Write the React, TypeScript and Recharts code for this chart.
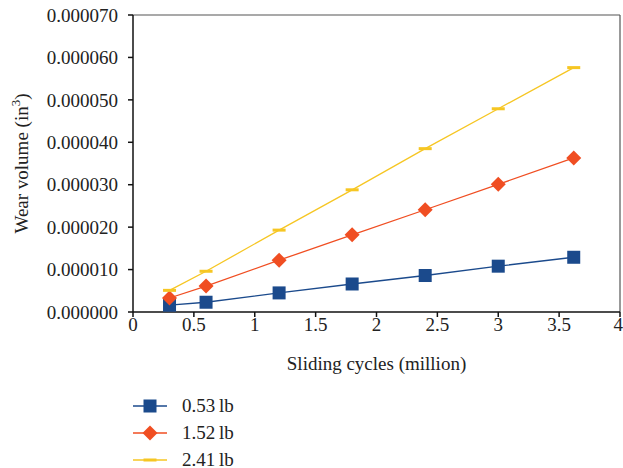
import { LineChart, Line, XAxis, YAxis, ReferenceLine } from "recharts";

const cycles = [0.3, 0.6, 1.2, 1.8, 2.4, 3.0, 3.62];
const load053 = [1.6e-6, 2.3e-6, 4.5e-6, 6.6e-6, 8.6e-6, 10.8e-6, 12.9e-6];
const load152 = [3.3e-6, 6.1e-6, 12.2e-6, 18.2e-6, 24.1e-6, 30.1e-6, 36.3e-6];
const load241 = [5.1e-6, 9.6e-6, 19.3e-6, 28.8e-6, 38.5e-6, 47.9e-6, 57.6e-6];
const xTicks = [0, 0.5, 1, 1.5, 2, 2.5, 3, 3.5, 4];
const yTicks = [0, 0.00001, 0.00002, 0.00003, 0.00004, 0.00005, 0.00006, 0.00007];

const data = cycles.map((c, i) => ({ c, a: load053[i], b: load152[i], d: load241[i] }));

const FONT = "'Liberation Serif', 'DejaVu Serif', serif";
const BLUE = "#1b4a8c";
const RED = "#f04e22";
const YELLOW = "#f6c623";

const Square = ({ cx, cy }: any) => <rect x={cx - 6.5} y={cy - 6.5} width={13} height={13} fill={BLUE} />;
const Diamond = ({ cx, cy }: any) => (
  <polygon points={`${cx},${cy - 7.5} ${cx + 7.5},${cy} ${cx},${cy + 7.5} ${cx - 7.5},${cy}`} fill={RED} />
);
const Dash = ({ cx, cy }: any) => <rect x={cx - 6.5} y={cy - 1.5} width={13} height={3} fill={YELLOW} />;

const legendItems = [
  { name: "0.53\u2009lb", color: BLUE, Marker: Square },
  { name: "1.52\u2009lb", color: RED, Marker: Diamond },
  { name: "2.41\u2009lb", color: YELLOW, Marker: Dash },
];

export default function App() {
  return (
    <div style={{ position: "absolute", left: 0, top: 0, width: 623, height: 468, background: "#fff", fontFamily: FONT }}>
      <LineChart width={623} height={468} data={data} margin={{ top: 15, right: 3, bottom: 96, left: 0 }}>
        <ReferenceLine y={0.00007} stroke="#555" strokeWidth={1.2} />
        <ReferenceLine x={4} stroke="#555" strokeWidth={1.2} />
        <XAxis
          dataKey="c"
          type="number"
          domain={[0, 4]}
          ticks={xTicks}
          height={60}
          stroke="#111"
          strokeWidth={1.5}
          tickSize={5}
          tickMargin={1}
          tick={{ fill: "#222", fontSize: 19, fontFamily: FONT }}
          label={{
            content: ({ viewBox }: any) => (
              <text x={viewBox.x + viewBox.width / 2} y={viewBox.y + 58} textAnchor="middle" fill="#222" fontSize={19} fontFamily={FONT}>
                Sliding cycles (million)
              </text>
            ),
          }}
        />
        <YAxis
          type="number"
          domain={[0, 0.00007]}
          ticks={yTicks}
          width={133}
          stroke="#111"
          strokeWidth={1.5}
          tickSize={5}
          tickMargin={10}
          tickFormatter={(v: number) => v.toFixed(6)}
          tick={{ fill: "#222", fontSize: 19, fontFamily: FONT }}
          label={{
            content: ({ viewBox }: any) => {
              const x = viewBox.x + 28;
              const y = viewBox.y + viewBox.height / 2;
              return (
                <text x={x} y={y} transform={`rotate(-90 ${x} ${y})`} textAnchor="middle" fill="#222" fontSize={19} fontFamily={FONT}>
                  Wear volume (in
                  <tspan fontSize={13} dy={-8}>3</tspan>
                  <tspan dy={8}>)</tspan>
                </text>
              );
            },
          }}
        />
        <Line dataKey="a" stroke={BLUE} strokeWidth={1.3} isAnimationActive={false} activeDot={false}
          dot={(p: any) => <Square key={`a${p.index}`} cx={p.cx} cy={p.cy} />} />
        <Line dataKey="b" stroke={RED} strokeWidth={1.3} isAnimationActive={false} activeDot={false}
          dot={(p: any) => <Diamond key={`b${p.index}`} cx={p.cx} cy={p.cy} />} />
        <Line dataKey="d" stroke={YELLOW} strokeWidth={1.3} isAnimationActive={false} activeDot={false}
          dot={(p: any) => <Dash key={`d${p.index}`} cx={p.cx} cy={p.cy} />} />
      </LineChart>
      <div style={{ position: "absolute", left: 133, top: 392 }}>
        {legendItems.map(({ name, color, Marker }) => (
          <div key={name} style={{ display: "flex", alignItems: "center", height: 27 }}>
            <svg width={34} height={20}>
              <line x1={0} y1={10} x2={34} y2={10} stroke={color} strokeWidth={1.3} />
              <Marker cx={17} cy={10} />
            </svg>
            <span style={{ marginLeft: 15, fontSize: 19, color: "#222" }}>{name}</span>
          </div>
        ))}
      </div>
    </div>
  );
}
